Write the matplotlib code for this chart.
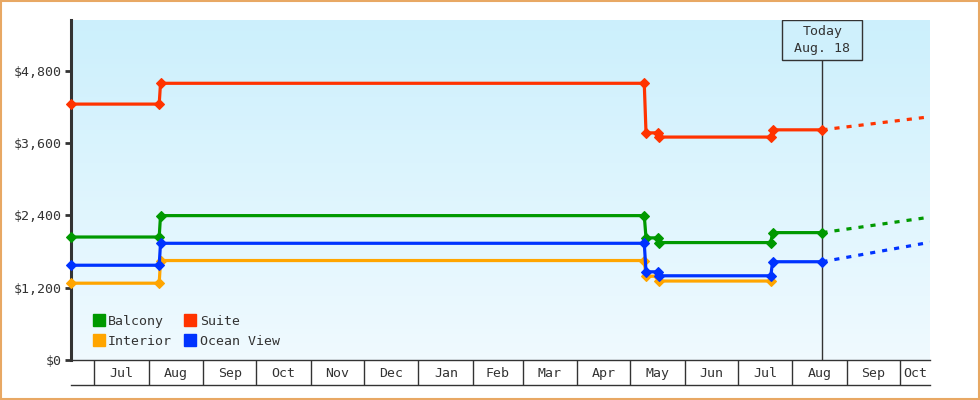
import numpy as np
import pandas as pd
import matplotlib
matplotlib.use("Agg")
import matplotlib.pyplot as plt
from matplotlib.lines import Line2D
from matplotlib.patches import Rectangle

plt.rcParams['font.family'] = 'DejaVu Sans Mono'
plt.rcParams['font.size'] = 9.5

# price observations (date, price) per cabin type
obs_dates = pd.to_datetime(['2018-06-18 00:00', '2018-08-07 00:00', '2018-08-07 18:00',
                            '2019-05-09 00:00', '2019-05-10 00:00', '2019-05-17 00:00',
                            '2019-05-17 12:00', '2019-07-19 18:00',
                            '2019-07-20 18:00', '2019-08-18 00:00'])
balcony = [2040, 2040, 2395, 2395, 2026, 2026, 1948, 1948, 2113, 2113]
suite = [4245, 4245, 4590, 4590, 3768, 3768, 3698, 3698, 3818, 3818]
ocean_view = [1572, 1572, 1936, 1936, 1463, 1463, 1397, 1397, 1630, 1630]
interior = [1274, 1274, 1650, 1650, 1390, 1390, 1310, 1310]

# forecast after today
fc_dates = pd.to_datetime(['2019-08-18', '2019-10-18'])
balcony_fc = [2113, 2370]
suite_fc = [3818, 4035]
ocean_view_fc = [1630, 1953]

today = pd.Timestamp('2019-08-18')
x_start = pd.Timestamp('2018-06-18')
x_end = pd.Timestamp('2019-10-18')
y_ticks = [0, 1200, 2400, 3600, 4800]
y_max = 5640

colors = {'Balcony': '#009900', 'Suite': '#ff3300',
          'Interior': '#ffa500', 'Ocean View': '#0033ff'}
dark = '#333333'

fig = plt.figure(figsize=(9.8, 4), dpi=100)
ax = fig.add_axes([71 / 980, 40 / 400, 859 / 980, 340 / 400])

series = [('Interior', interior, None),
          ('Balcony', balcony, balcony_fc),
          ('Suite', suite, suite_fc),
          ('Ocean View', ocean_view, ocean_view_fc)]
for name, vals, fc in series:
    c = colors[name]
    ax.plot(obs_dates[:len(vals)], vals, '-', color=c, lw=2.3,
            marker='D', ms=4.8, mew=0.8, mec=c, zorder=3, clip_on=False)
    if fc is not None:
        ax.plot(fc_dates, fc, color=c, lw=2.3, ls=(0, (1.6, 2.2)), zorder=3)

# background gradient
grad = np.linspace(0, 1, 256)[:, None]
top = np.array([0.80, 0.94, 0.99])
bot = np.array([0.94, 0.98, 1.0])
img = (top * (1 - grad) + bot * grad)[:, None, :]
ax.imshow(img, extent=[0, 1, 0, 1], transform=ax.transAxes,
          aspect='auto', zorder=0)

ax.set_xlim(x_start, x_end)
ax.set_ylim(0, y_max)

# y axis
ax.set_yticks(y_ticks)
ax.set_yticklabels(['${:,}'.format(v) for v in y_ticks])
ax.tick_params(axis='y', length=4, width=2, color=dark, labelcolor=dark, pad=3)
ax.spines['left'].set_linewidth(2.2)
ax.spines['left'].set_color(dark)
ax.spines['bottom'].set_linewidth(1)
ax.spines['bottom'].set_color(dark)
ax.spines['top'].set_visible(False)
ax.spines['right'].set_visible(False)

# x axis as a row of month cells
month_starts = pd.date_range('2018-07-01', x_end, freq='MS')
centers = []
for m in month_starts:
    end = min(m + pd.offsets.MonthBegin(1), x_end)
    centers.append(m + (end - m) / 2)
ax.set_xticks(month_starts)
ax.set_xticklabels([])
ax.set_xticks(centers, minor=True)
ax.set_xticklabels([m.strftime('%b') for m in month_starts], minor=True)
ax.tick_params(axis='x', which='major', length=18, width=1, color=dark)
ax.tick_params(axis='x', which='minor', length=0, pad=5, labelcolor=dark)
ax.plot([0, 1], [-25 / 340, -25 / 340], color=dark, lw=1,
        transform=ax.transAxes, clip_on=False)

# today marker
tx = (today - x_start) / (x_end - x_start)
ax.axvline(today, ymax=300 / 340, color=dark, lw=1, zorder=2)
ax.add_patch(Rectangle((tx - 40 / 859, 300 / 340), 80 / 859, 40 / 340,
                       transform=ax.transAxes, facecolor='#cff0fc',
                       edgecolor=dark, lw=1, zorder=4))
ax.text(tx, 320 / 340, 'Today\nAug. 18', transform=ax.transAxes,
        ha='center', va='center', color=dark, linespacing=1.4, zorder=5)

# legend
order = ['Balcony', 'Interior', 'Suite', 'Ocean View']
handles = [Line2D([], [], ls='none', marker='s', ms=8, color=colors[n]) for n in order]
ax.legend(handles, order, ncol=2, loc='lower left', bbox_to_anchor=(0.02, 0.021),
          frameon=False, handlelength=0.8, handletextpad=0.3,
          columnspacing=1.0, labelspacing=0.5, borderaxespad=0,
          labelcolor=dark)

fig.add_artist(Rectangle((1 / 980, 1 / 400), 1 - 2 / 980, 1 - 2 / 400,
                         transform=fig.transFigure, fill=False,
                         edgecolor='#e8a864', lw=1.5))

fig.savefig('out.png', dpi=100)
